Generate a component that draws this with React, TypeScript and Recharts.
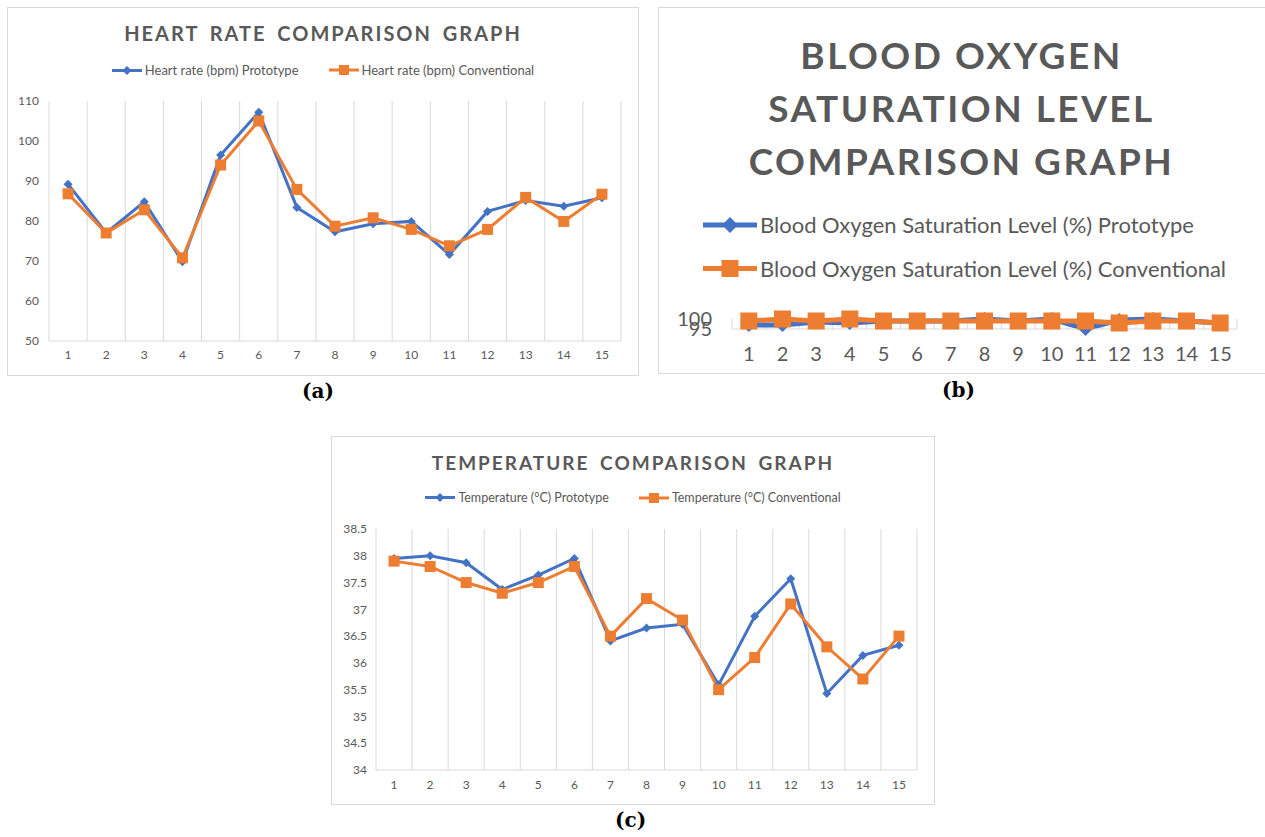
import React from 'react';
import { LineChart, Line, XAxis, YAxis, ReferenceLine } from 'recharts';

// readings 1..15 (category axis)
const readings = [1, 2, 3, 4, 5, 6, 7, 8, 9, 10, 11, 12, 13, 14, 15];
// Excel draws its vertical gridlines between categories
const boundaries = [0.5, 1.5, 2.5, 3.5, 4.5, 5.5, 6.5, 7.5, 8.5, 9.5, 10.5, 11.5, 12.5, 13.5, 14.5, 15.5];

const heartProto = [89.2, 77, 84.8, 69.8, 96.5, 107.2, 83.4, 77.3, 79.3, 79.9, 71.6, 82.4, 85.1, 83.7, 85.8];
const heartConv = [86.8, 77, 82.8, 70.8, 94, 105, 87.9, 78.7, 80.8, 77.9, 73.8, 77.9, 85.9, 79.9, 86.7];
const heartTicks = [50, 60, 70, 80, 90, 100, 110];

const spo2Proto = [97, 97, 98.5, 98, 99, 99, 99, 100, 99, 100, 95, 99.5, 100, 99, 98];
const spo2Conv = [99, 100, 99, 100, 99, 99, 99, 99, 99, 99, 99, 98, 99, 99, 98];
const spo2Ticks = [95, 100];

const tempProto = [37.95, 38.0, 37.87, 37.37, 37.64, 37.95, 36.41, 36.65, 36.72, 35.59, 36.87, 37.57, 35.43, 36.14, 36.33];
const tempConv = [37.9, 37.8, 37.5, 37.3, 37.5, 37.8, 36.5, 37.2, 36.8, 35.5, 36.1, 37.1, 36.3, 35.7, 36.5];
const tempTicks = [34, 34.5, 35, 35.5, 36, 36.5, 37, 37.5, 38, 38.5];

const BLUE = '#4472C4';
const ORANGE = '#ED7D31';
const GRID = '#d9d9d9';
const TEXT = '#595959';
const FONT = 'Lato, "Open Sans", sans-serif';

const rows = (a: number[], b: number[]) =>
  readings.map((r, i) => ({ reading: r, prototype: a[i], conventional: b[i] }));

const diamondDot = (s: number) => (props: any) => {
  const { cx, cy, index } = props;
  if (cx == null || cy == null) return <g key={`d${index}`} />;
  return (
    <path
      key={`d${index}`}
      d={`M${cx},${cy - s} L${cx + s},${cy} L${cx},${cy + s} L${cx - s},${cy} Z`}
      fill={BLUE}
    />
  );
};

const squareDot = (h: number) => (props: any) => {
  const { cx, cy, index } = props;
  if (cx == null || cy == null) return <g key={`s${index}`} />;
  return <rect key={`s${index}`} x={cx - h} y={cy - h} width={h * 2} height={h * 2} fill={ORANGE} />;
};

type LegendItemProps = { label: string; kind: 'diamond' | 'square'; len: number; mark: number; stroke: number; size: number };

const LegendItem = ({ label, kind, len, mark, stroke, size }: LegendItemProps) => {
  const color = kind === 'diamond' ? BLUE : ORANGE;
  const h = mark * 2 + 2;
  const c = len / 2;
  const m = h / 2;
  return (
    <span style={{ display: 'inline-flex', alignItems: 'center' }}>
      <svg width={len} height={h} style={{ marginRight: 3 }}>
        <line x1={0} y1={m} x2={len} y2={m} stroke={color} strokeWidth={stroke} />
        {kind === 'diamond' ? (
          <path d={`M${c},${m - mark} L${c + mark},${m} L${c},${m + mark} L${c - mark},${m} Z`} fill={color} />
        ) : (
          <rect x={c - mark} y={m - mark} width={mark * 2} height={mark * 2} fill={color} />
        )}
      </svg>
      <span style={{ fontSize: size, color: TEXT, whiteSpace: 'nowrap' }}>{label}</span>
    </span>
  );
};

type PlotProps = {
  data: { reading: number; prototype: number; conventional: number }[];
  width: number;
  height: number;
  margin: { top: number; right: number; left: number; bottom: number };
  domain: [number, number];
  ticks: number[];
  yWidth: number;
  fontSize: number;
  yMargin: number;
  xMargin: number;
  stroke: number;
  diamond: number;
  square: number;
};

const ComparisonPlot = (p: PlotProps) => (
  <LineChart width={p.width} height={p.height} data={p.data} margin={p.margin}>
    {boundaries.map((b) => (
      <ReferenceLine key={b} x={b} stroke={GRID} strokeWidth={1} />
    ))}
    <XAxis
      type="number"
      dataKey="reading"
      domain={[0.5, 15.5]}
      ticks={readings}
      interval={0}
      height={30}
      axisLine={{ stroke: GRID }}
      tickLine={false}
      tickMargin={p.xMargin}
      tick={{ fill: TEXT, fontSize: p.fontSize, fontFamily: FONT }}
    />
    <YAxis
      type="number"
      domain={p.domain}
      ticks={p.ticks}
      interval={0}
      width={p.yWidth}
      axisLine={false}
      tickLine={false}
      tickMargin={p.yMargin}
      tick={{ fill: TEXT, fontSize: p.fontSize, fontFamily: FONT }}
    />
    <Line
      dataKey="prototype"
      stroke={BLUE}
      strokeWidth={p.stroke}
      dot={diamondDot(p.diamond)}
      activeDot={false}
      isAnimationActive={false}
    />
    <Line
      dataKey="conventional"
      stroke={ORANGE}
      strokeWidth={p.stroke}
      dot={squareDot(p.square)}
      activeDot={false}
      isAnimationActive={false}
    />
  </LineChart>
);

const abs = (left: number, top: number, extra: React.CSSProperties = {}): React.CSSProperties => ({
  position: 'absolute',
  left,
  top,
  ...extra,
});

const boxStyle = (left: number, top: number, width: number, height: number) =>
  abs(left, top, { width, height, border: `1px solid ${GRID}`, boxSizing: 'border-box', background: '#fff' });

const titleStyle = (size: number, spacing: number, words: number): React.CSSProperties => ({
  fontSize: size,
  fontWeight: 700,
  color: TEXT,
  letterSpacing: spacing,
  wordSpacing: words,
  textAlign: 'center',
  whiteSpace: 'nowrap',
});

const capStyle = (left: number, top: number) =>
  abs(left, top, { fontFamily: '"DejaVu Serif", serif', fontWeight: 700, fontSize: 20, color: '#000' });

export default function App() {
  return (
    <div style={abs(0, 0, { width: 1265, height: 837, background: '#fff', fontFamily: FONT, overflow: 'hidden' })}>
      {/* (a) heart rate */}
      <div style={boxStyle(7, 7, 632, 369)} />
      <div style={abs(8, 21, { width: 630, ...titleStyle(20, 2, 4) })}>HEART RATE COMPARISON GRAPH</div>
      <div style={abs(8, 62, { width: 630, display: 'flex', justifyContent: 'center', gap: 30 })}>
        <LegendItem label="Heart rate (bpm) Prototype" kind="diamond" len={30} mark={4.5} stroke={3} size={13} />
        <LegendItem label="Heart rate (bpm) Conventional" kind="square" len={30} mark={5} stroke={3} size={13} />
      </div>
      <div style={abs(8, 8)}>
        <ComparisonPlot
          data={rows(heartProto, heartConv)}
          width={630}
          height={367}
          margin={{ top: 93, right: 17, left: 11, bottom: 4 }}
          domain={[50, 110]}
          ticks={heartTicks}
          yWidth={30}
          fontSize={12}
          yMargin={4}
          xMargin={3}
          stroke={3}
          diamond={4.5}
          square={5.5}
        />
      </div>
      <div style={capStyle(302, 379)}>(a)</div>

      {/* (b) blood oxygen */}
      <div style={boxStyle(658, 7, 620, 367)} />
      <div style={abs(658, 28, { width: 607, lineHeight: '53px', ...titleStyle(37, 2.5, 0) })}>
        BLOOD OXYGEN
        <br />
        SATURATION LEVEL
        <br />
        COMPARISON GRAPH
      </div>
      <div style={abs(703, 211, { display: 'flex', flexDirection: 'column', gap: 17 })}>
        <LegendItem label="Blood Oxygen Saturation Level (%) Prototype" kind="diamond" len={54} mark={8} stroke={5} size={22} />
        <LegendItem label="Blood Oxygen Saturation Level (%) Conventional" kind="square" len={54} mark={8.5} stroke={5} size={22} />
      </div>
      <div style={abs(658, 8)}>
        <ComparisonPlot
          data={rows(spo2Proto, spo2Conv)}
          width={607}
          height={365}
          margin={{ top: 311, right: 28, left: 24, bottom: 14 }}
          domain={[95, 100]}
          ticks={spo2Ticks}
          yWidth={50}
          fontSize={20}
          yMargin={14}
          xMargin={12}
          stroke={5}
          diamond={7}
          square={8.5}
        />
      </div>
      <div style={capStyle(942, 378)}>(b)</div>

      {/* (c) temperature */}
      <div style={boxStyle(331, 436, 604, 369)} />
      <div style={abs(332, 451, { width: 602, ...titleStyle(19, 2, 4) })}>TEMPERATURE COMPARISON GRAPH</div>
      <div style={abs(332, 490, { width: 602, display: 'flex', justifyContent: 'center', gap: 30 })}>
        <LegendItem label="Temperature (°C) Prototype" kind="diamond" len={30} mark={4.5} stroke={3} size={12.5} />
        <LegendItem label="Temperature (°C) Conventional" kind="square" len={30} mark={5} stroke={3} size={12.5} />
      </div>
      <div style={abs(332, 437)}>
        <ComparisonPlot
          data={rows(tempProto, tempConv)}
          width={602}
          height={367}
          margin={{ top: 92, right: 17, left: 14, bottom: 4 }}
          domain={[34, 38.5]}
          ticks={tempTicks}
          yWidth={30}
          fontSize={12}
          yMargin={3}
          xMargin={4}
          stroke={3}
          diamond={4.5}
          square={5.5}
        />
      </div>
      <div style={capStyle(615, 808)}>(c)</div>
    </div>
  );
}
